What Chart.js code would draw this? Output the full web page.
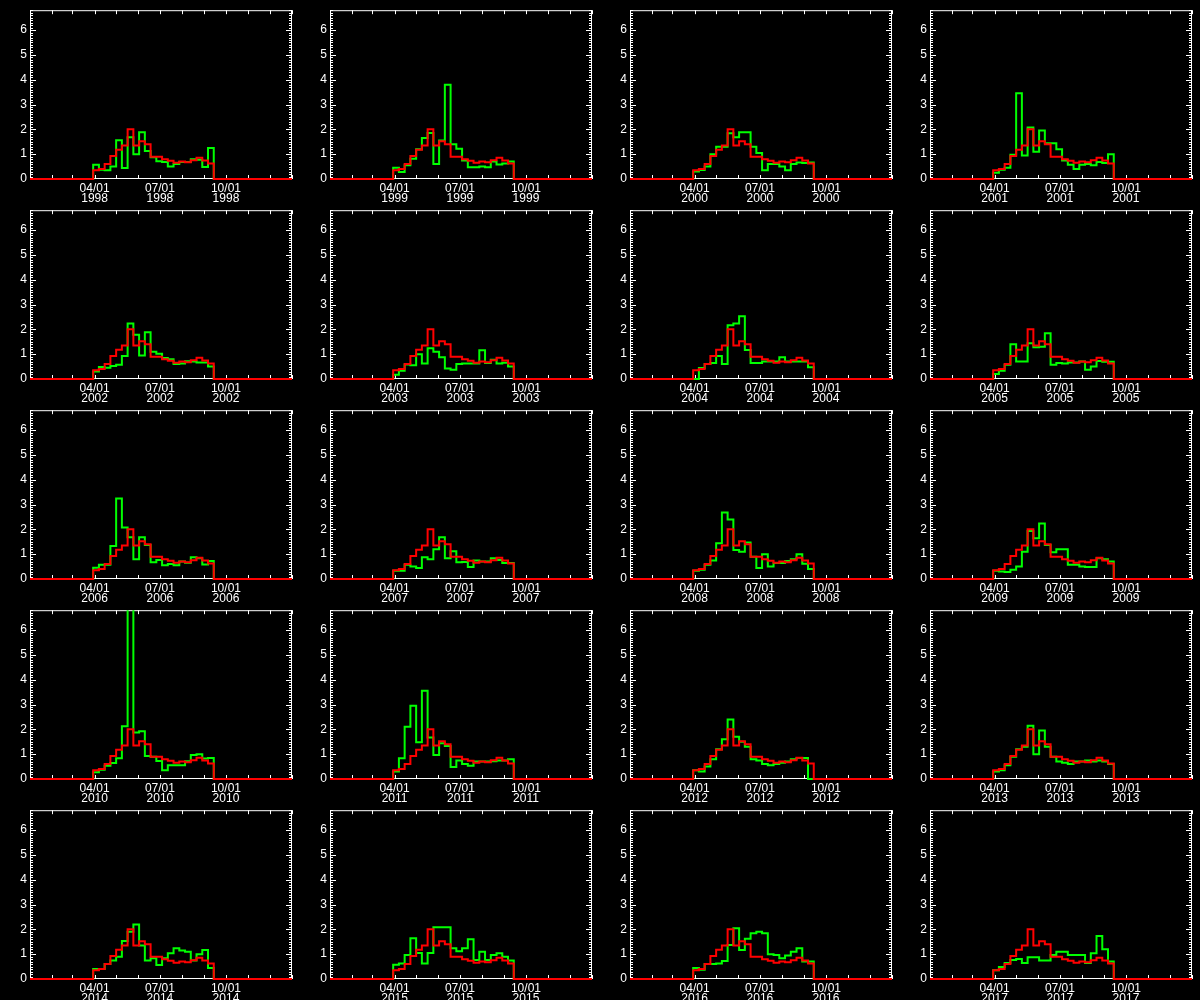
<!DOCTYPE html>
<html><head><meta charset="utf-8">
<script src="https://cdn.jsdelivr.net/npm/chart.js@4.4.1/dist/chart.umd.min.js"></script>
<style>
html,body{margin:0;padding:0;background:#000;width:1200px;height:1000px;overflow:hidden;}
#wrap{position:relative;width:1200px;height:1000px;background:#000;}
canvas{position:absolute;}
</style></head><body><div id="wrap"></div>
<script>
// ---------- data ----------
const years = [1998,1999,2000,2001,2002,2003,2004,2005,2006,2007,2008,2009,2010,2011,2012,2013,2014,2015,2016,2017];
// 8-day composite start days (day of year, 0-based)
const binStartDays = [88,96,104,112,120,128,136,144,152,160,168,176,184,192,200,208,216,224,232,240,248];
const binEndDay = 256;
const yearEndDay = 365;
// red: climatology (same in every panel)
const climatology = [0.35,0.4,0.6,0.93,1.18,1.35,2.0,1.35,1.52,1.4,0.9,0.9,0.8,0.74,0.65,0.7,0.67,0.76,0.86,0.75,0.62];
// green: individual years
const g1998 = [0.57,0.37,0.35,0.5,1.56,0.44,1.68,1.0,1.88,1.13,0.88,0.72,0.68,0.5,0.6,0.68,0.68,0.8,0.78,0.48,1.25];
const g1999 = [0.45,0.28,0.55,0.82,1.2,1.65,1.85,0.6,1.55,3.8,1.4,1.22,0.75,0.47,0.47,0.5,0.47,0.7,0.58,0.62,0.7];
const g2000 = [0.3,0.36,0.5,1.0,1.3,1.3,1.84,1.68,1.88,1.88,1.3,1.05,0.35,0.6,0.6,0.5,0.35,0.6,0.66,0.64,0.66];
const g2001 = [0.25,0.37,0.45,0.98,3.45,0.95,2.07,1.1,1.95,1.44,1.44,1.2,0.75,0.57,0.4,0.57,0.6,0.55,0.68,0.64,1.0];
const g2002 = [0.3,0.48,0.45,0.52,0.57,0.93,2.24,1.78,0.95,1.88,1.1,1.02,0.85,0.8,0.6,0.62,0.72,0.7,0.66,0.66,0.5];
const g2003 = [0.17,0.33,0.58,0.55,1.0,0.62,1.24,1.1,0.88,0.42,0.37,0.6,0.62,0.62,0.62,1.16,0.64,0.78,0.62,0.65,0.5];
const g2004 = [0.0,0.44,0.6,0.64,0.93,0.6,2.17,2.24,2.53,1.17,0.64,0.64,0.7,0.7,0.7,0.88,0.7,0.7,0.7,0.7,0.47];
const g2005 = [0.2,0.33,0.57,1.4,0.7,0.7,1.44,1.28,1.3,1.84,0.57,0.64,0.62,0.66,0.66,0.7,0.37,0.5,0.73,0.69,0.69];
const g2006 = [0.45,0.57,0.57,1.33,3.24,2.07,1.68,0.8,1.68,1.37,0.67,0.77,0.55,0.6,0.55,0.7,0.65,0.88,0.84,0.58,0.73];
const g2007 = [0.33,0.33,0.57,0.5,0.44,0.88,0.8,1.2,1.68,0.84,1.12,0.67,0.68,0.48,0.75,0.7,0.7,0.84,0.77,0.64,0.64];
const g2008 = [0.33,0.37,0.57,0.75,1.44,2.68,2.4,1.17,1.1,1.47,0.9,0.44,1.0,0.5,0.64,0.64,0.73,0.8,1.0,0.61,0.4];
const g2009 = [0.33,0.3,0.28,0.37,0.5,1.1,1.93,1.64,2.24,1.37,1.08,1.2,1.2,0.57,0.57,0.5,0.48,0.48,0.84,0.8,0.7];
const g2010 = [0.27,0.37,0.53,0.64,0.84,2.13,7.5,1.87,1.92,0.93,0.9,0.73,0.35,0.55,0.55,0.55,0.72,0.97,1.0,0.83,0.85];
const g2011 = [0.3,0.84,2.1,2.95,1.48,3.56,1.67,0.97,1.44,1.33,0.48,0.75,0.6,0.53,0.7,0.7,0.7,0.72,0.75,0.75,0.8];
const g2012 = [0.35,0.3,0.5,0.8,1.2,1.6,2.4,1.7,1.5,1.3,0.8,0.75,0.6,0.55,0.6,0.65,0.7,0.8,0.85,0.85,0.0];
const g2013 = [0.3,0.35,0.55,0.9,1.2,1.3,2.15,1.0,1.95,1.3,0.9,0.7,0.65,0.6,0.7,0.7,0.75,0.7,0.75,0.7,0.6];
const g2014 = [0.4,0.4,0.6,0.75,0.9,1.53,1.9,2.2,1.35,0.75,0.84,0.56,0.84,1.04,1.24,1.15,1.1,0.75,1.0,1.17,0.44];
const g2015 = [0.57,0.62,0.97,1.64,1.05,0.62,1.05,2.08,2.08,2.08,1.24,1.12,1.24,1.6,0.77,1.1,0.77,0.97,1.04,0.9,0.75];
const g2016 = [0.44,0.37,0.6,0.6,0.62,0.73,1.37,2.04,1.17,1.62,1.84,1.9,1.84,1.0,0.97,0.84,0.95,1.1,1.24,0.7,0.7];
const g2017 = [0.35,0.48,0.64,0.77,0.81,0.64,0.88,0.88,0.75,0.75,0.97,1.1,1.1,0.97,0.97,0.97,0.64,1.04,1.73,1.2,0.7];
const yearSeries = [g1998,g1999,g2000,g2001,g2002,g2003,g2004,g2005,g2006,g2007,g2008,g2009,g2010,g2011,g2012,g2013,g2014,g2015,g2016,g2017];
// ticks
const yTickLabels = ['0','1','2','3','4','5','6'];
const xTickDays = [90,181,273];
const xTickDates = ['04/01','07/01','10/01'];
const monthStartDays = [0,31,59,90,120,151,181,212,243,273,304,334,365];

// ---------- rendering ----------
const Y_MAX = 6.8;
const yMinorTicks = [];
for (let i = 0; i <= 68; i++) yMinorTicks.push(i / 10);

function toPoints(vals) {
  const pts = [{x: 0, y: 0}];
  binStartDays.forEach((d, i) => pts.push({x: d, y: vals[i]}));
  pts.push({x: binEndDay, y: 0});
  pts.push({x: yearEndDay, y: 0});
  return pts;
}

const idlFrame = {
  id: 'idlFrame',
  beforeDatasetsDraw(chart) {
    const {ctx, chartArea: a} = chart;
    const xs = chart.scales.x, ys = chart.scales.y;
    ctx.save();
    ctx.strokeStyle = '#ffffff';
    ctx.lineWidth = 1;
    ctx.beginPath();
    ctx.rect(a.left + 0.5, a.top + 0.5, a.right - a.left - 1, a.bottom - a.top - 1);
    ys.ticks.forEach(t => {
      const py = Math.round(ys.getPixelForValue(t.value)) + 0.5;
      const major = Math.abs(t.value - Math.round(t.value)) < 1e-6;
      const len = major ? 6 : 3;
      ctx.moveTo(a.left, py); ctx.lineTo(a.left + len, py);
      ctx.moveTo(a.right, py); ctx.lineTo(a.right - len, py);
    });
    xs.ticks.forEach(t => {
      const px = Math.round(xs.getPixelForValue(t.value)) + 0.5;
      ctx.moveTo(px, a.bottom); ctx.lineTo(px, a.bottom - 4);
      ctx.moveTo(px, a.top); ctx.lineTo(px, a.top + 4);
    });
    ctx.stroke();
    ctx.restore();
  }
};

Chart.defaults.font.family = "'Liberation Sans', Arial, sans-serif";
Chart.defaults.font.size = 12;
Chart.defaults.color = '#ffffff';

const wrap = document.getElementById('wrap');
years.forEach((yr, idx) => {
  const col = idx % 4, row = Math.floor(idx / 4);
  const cv = document.createElement('canvas');
  cv.width = 300; cv.height = 210;
  cv.style.left = (col * 300) + 'px';
  cv.style.top = (row * 200) + 'px';
  cv.style.width = '300px'; cv.style.height = '210px';
  wrap.appendChild(cv);
  new Chart(cv, {
    type: 'line',
    data: {
      datasets: [
        {label: 'climatology', data: toPoints(climatology), borderColor: '#ff0000', borderWidth: 2,
         stepped: 'before', pointRadius: 0, fill: false, order: 0, clip: {left: 0, top: 0, right: 0, bottom: 2}},
        {label: String(yr), data: toPoints(yearSeries[idx]), borderColor: '#00ff00', borderWidth: 2,
         stepped: 'before', pointRadius: 0, fill: false, order: 1, clip: {left: 0, top: 0, right: 0, bottom: 2}}
      ]
    },
    options: {
      responsive: false,
      animation: false,
      events: [],
      layout: {padding: {left: 0, right: 8, top: 9, bottom: 0}},
      plugins: {legend: {display: false}, tooltip: {enabled: false}, title: {display: false}},
      scales: {
        x: {
          type: 'linear', min: 0, max: yearEndDay,
          grid: {display: false, drawTicks: false}, border: {display: false},
          afterBuildTicks: s => { s.ticks = monthStartDays.map(v => ({value: v})); },
          afterFit: s => { s.height = 31; },
          ticks: {
            autoSkip: false, maxRotation: 0, minRotation: 0, padding: 5,
            font: {size: 12, lineHeight: '10px'},
            callback: v => { const i = xTickDays.indexOf(v); return i >= 0 ? [xTickDates[i], String(yr)] : ''; }
          }
        },
        y: {
          type: 'linear', min: 0, max: Y_MAX,
          grid: {display: false, drawTicks: false}, border: {display: false},
          afterBuildTicks: s => { s.ticks = yMinorTicks.map(v => ({value: v})); },
          afterFit: s => { s.width = 30; },
          ticks: {
            autoSkip: false, padding: 3,
            font: {size: 12},
            callback: v => { const r = Math.round(v); return Math.abs(v - r) < 1e-6 && r < yTickLabels.length ? yTickLabels[r] : ''; }
          }
        }
      }
    },
    plugins: [idlFrame]
  });
});
</script>
</body></html>
